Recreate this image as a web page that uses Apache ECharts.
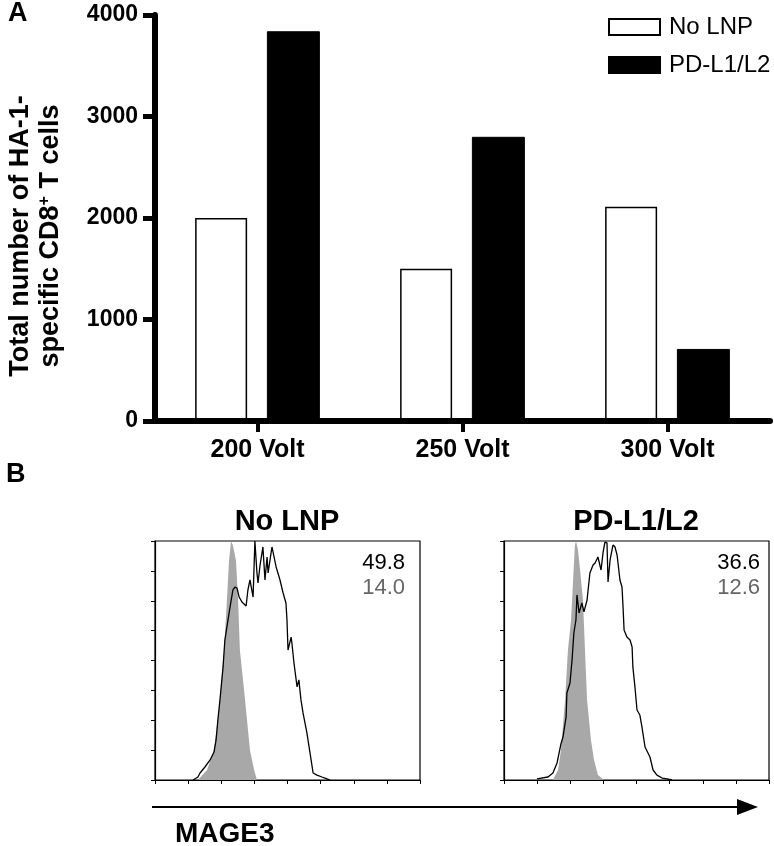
<!DOCTYPE html>
<html>
<head>
<meta charset="utf-8">
<script src="https://cdn.jsdelivr.net/npm/echarts@6/dist/echarts.min.js"></script>
<style>
html,body{margin:0;padding:0;background:#fff;}
#wrap{position:relative;width:774px;height:846px;}
#chartA,#chartB,#chartC{position:absolute;left:0;top:0;width:774px;height:846px;}
</style>
</head>
<body>
<div id="wrap"><div id="chartA"></div><div id="chartB"></div><div id="chartC"></div></div>
<script>
// ---------- Panel A data ----------
const categories = ['200 Volt', '250 Volt', '300 Volt'];
const noLnpValues = [2000, 1500, 2110];
const pdl1l2Values = [3840, 2800, 710];
const seriesNames = ['No LNP', 'PD-L1/L2'];
const yTitleLine1 = 'Total number of HA-1-';
const yTitleLine2 = '{n|specific CD8}{sup|+}{n| T cells}';

// ---------- Panel B data (histograms: [channel, count]) ----------
const noLnpIsotype = [[166,0],[201,6.7],[228,20],[251,53.6],[267,87],[278,120.5],[286,147],[294,160],[301,157],[313,147],[321,120.5],[328,87],[348,53.6],[367,20],[383,6.7],[394,0]];
const noLnpMage3 = [[147,0],[166,2],[174,4.7],[193,8.7],[213,13.4],[228,18.7],[236,26.8],[243,40.2],[251,53.6],[263,75.7],[270,93.7],[282,107],[290,115.8],[301,127.2],[309,129.2],[317,128.5],[325,122.5],[336,119.2],[352,116.5],[359,127.2],[367,133.9],[379,122.5],[386,160],[394,138.6],[398,131.9],[406,143.9],[417,156],[425,133.9],[433,149.3],[437,138.6],[452,156],[456,155.3],[468,142.6],[475,138.6],[483,133.9],[495,125.2],[506,118.5],[510,107.1],[514,87],[526,95.7],[529,91.7],[537,78.3],[549,62.3],[556,67],[564,53.6],[572,44.9],[587,31.5],[599,18.1],[611,4.7],[626,3.3],[645,2],[665,0.7],[676,0]];
const pdlIsotype = [[189,0],[209,6.7],[220,20],[236,53.6],[247,87],[259,107],[267,133.9],[274,157],[278,160],[286,154],[294,140.6],[305,120.5],[313,87],[321,53.6],[336,26.8],[348,13.4],[363,3.3],[386,0]];
const pdlMage3 = [[127.5,0.7],[170,2],[189,4.7],[205,11.4],[220,24.1],[228,28.8],[240,42.2],[243,58.2],[255,64.9],[263,80.3],[270,98.4],[278,107.1],[282,123.9],[290,111.8],[301,118.5],[309,112.5],[321,120.5],[332,138.6],[344,143.9],[352,145.3],[363,149.3],[375,140.6],[383,152.6],[390,159.3],[398,158.7],[402,132.6],[410,147.3],[421,157.3],[429,156],[437,150.6],[448,133.9],[456,129.2],[460,115.8],[464,100.4],[475,95.7],[487,93.7],[495,89],[498,75.7],[506,62.3],[514,46.9],[525,43.5],[533,35.5],[545,22.1],[564,15.4],[576,6.7],[591,3.3],[611,1.3],[630,0.7],[649,0]];
const histTitles = ['No LNP', 'PD-L1/L2'];
const mage3Pct = ['49.8', '36.6'];
const isoPct = ['14.0', '12.6'];

const FONT = '"Liberation Sans", Arial, Helvetica, sans-serif';
const barStyles = [
  {color: '#fff', borderColor: '#000', borderWidth: 1.5},
  {color: '#000', borderColor: '#000', borderWidth: 1}
];

// ---------- Chart A: bar chart ----------
const chartA = echarts.init(document.getElementById('chartA'), null, {renderer: 'canvas'});
chartA.setOption({
  backgroundColor: '#fff',
  animation: false,
  grid: [{left: 155, top: 15, width: 615, height: 406}],
  xAxis: [{
    gridIndex: 0, type: 'category', data: categories, z: 100,
    axisLine: {show: true, onZero: false, lineStyle: {color: '#000', width: 6}},
    axisTick: {show: true, alignWithLabel: true, length: 11, lineStyle: {color: '#050505', width: 4}},
    axisLabel: {color: '#000', fontSize: 25, fontWeight: 'bold', fontFamily: FONT, margin: 17}
  }],
  yAxis: [{
    gridIndex: 0, type: 'value', min: 0, max: 4000, interval: 1000, z: 100,
    axisLine: {show: true, onZero: false, lineStyle: {color: '#000', width: 6}},
    axisTick: {show: true, length: 12, lineStyle: {color: '#050505', width: 5}},
    axisLabel: {color: '#000', fontSize: 23, fontWeight: 'bold', fontFamily: FONT, margin: 17, formatter: v => String(v)},
    splitLine: {show: false}
  }],
  series: [
    {name: seriesNames[0], type: 'bar', data: noLnpValues, barWidth: 52, barGap: '38%', itemStyle: barStyles[0]},
    {name: seriesNames[1], type: 'bar', data: pdl1l2Values, barWidth: 53, barGap: '38%', itemStyle: barStyles[1]}
  ]
});

// ---------- Chart C: legend only (transparent overlay, series without data) ----------
const chartC = echarts.init(document.getElementById('chartC'), null, {renderer: 'canvas'});
chartC.setOption({
  backgroundColor: 'transparent',
  animation: false,
  grid: {left: 0, top: 0, width: 1, height: 1, show: false},
  xAxis: {type: 'category', show: false, data: []},
  yAxis: {type: 'value', show: false},
  legend: {
    orient: 'vertical', left: 608, top: 15, padding: 0, icon: 'rect',
    itemWidth: 51, itemHeight: 16, itemGap: 14,
    textStyle: {fontFamily: FONT, fontSize: 24, color: '#000', padding: [0, 0, 0, 4]},
    data: seriesNames
  },
  series: [
    {name: seriesNames[0], type: 'bar', data: [], itemStyle: barStyles[0]},
    {name: seriesNames[1], type: 'bar', data: [], itemStyle: barStyles[1]}
  ]
});

// ---------- Chart B: histograms + annotations (transparent overlay) ----------
function histXAxis(gridIndex) {
  return {
    gridIndex, type: 'value', min: 0, max: 1024, interval: 128,
    axisLine: {show: true, onZero: false, lineStyle: {color: '#000', width: 1.2}},
    axisTick: {show: true, length: 4, lineStyle: {color: '#000', width: 1}},
    axisLabel: {show: false}, splitLine: {show: false}
  };
}
function histYAxis(gridIndex) {
  return {
    gridIndex, type: 'value', min: 0, max: 160, interval: 20,
    axisLine: {show: true, onZero: false, lineStyle: {color: '#000', width: 1.2}},
    axisTick: {show: true, length: 4, lineStyle: {color: '#000', width: 1}},
    axisLabel: {show: false}, splitLine: {show: false}
  };
}
const chartB = echarts.init(document.getElementById('chartB'), null, {renderer: 'canvas'});
chartB.setOption({
  backgroundColor: 'transparent',
  animation: false,
  grid: [
    {left: 155, top: 541, width: 265, height: 239, show: true, borderColor: '#000', borderWidth: 1.2, backgroundColor: 'transparent'},
    {left: 504, top: 541, width: 265, height: 239, show: true, borderColor: '#000', borderWidth: 1.2, backgroundColor: 'transparent'}
  ],
  xAxis: [histXAxis(0), histXAxis(1)],
  yAxis: [histYAxis(0), histYAxis(1)],
  series: [
    {type: 'line', xAxisIndex: 0, yAxisIndex: 0, data: noLnpIsotype, showSymbol: false, symbol: 'none',
     lineStyle: {width: 0}, areaStyle: {color: '#a8a8a8', opacity: 1}, z: 1},
    {type: 'line', xAxisIndex: 0, yAxisIndex: 0, data: noLnpMage3, showSymbol: false, symbol: 'none',
     lineStyle: {color: '#000', width: 1.3}, z: 3},
    {type: 'line', xAxisIndex: 1, yAxisIndex: 1, data: pdlIsotype, showSymbol: false, symbol: 'none',
     lineStyle: {width: 0}, areaStyle: {color: '#a8a8a8', opacity: 1}, z: 1},
    {type: 'line', xAxisIndex: 1, yAxisIndex: 1, data: pdlMage3, showSymbol: false, symbol: 'none',
     lineStyle: {color: '#000', width: 1.3}, z: 3}
  ],
  graphic: [
    {type: 'text', x: 8, y: 0, style: {text: 'A', fontFamily: FONT, fontSize: 27, fontWeight: 'bold', fill: '#000'}},
    {type: 'text', x: 6, y: 461, style: {text: 'B', fontFamily: FONT, fontSize: 27, fontWeight: 'bold', fill: '#000'}},
    {type: 'text', x: 21, y: 236, rotation: Math.PI / 2,
     style: {text: yTitleLine1, fontFamily: FONT, fontSize: 27, fontWeight: 'bold', fill: '#000', align: 'center', verticalAlign: 'middle'}},
    {type: 'text', x: 51, y: 236, rotation: Math.PI / 2,
     style: {text: yTitleLine2, fontFamily: FONT, fontSize: 27, fontWeight: 'bold', fill: '#000', align: 'center', verticalAlign: 'middle',
       rich: {
         n: {fontFamily: FONT, fontSize: 27, fontWeight: 'bold', fill: '#000'},
         sup: {fontFamily: FONT, fontSize: 16, fontWeight: 'bold', fill: '#000', verticalAlign: 'top', padding: [0, 0, 12, 0]}
       }}},
    {type: 'text', x: 287, y: 522, style: {text: histTitles[0], fontFamily: FONT, fontSize: 29, fontWeight: 'bold', fill: '#000', align: 'center', verticalAlign: 'middle'}},
    {type: 'text', x: 636, y: 522, style: {text: histTitles[1], fontFamily: FONT, fontSize: 29, fontWeight: 'bold', fill: '#000', align: 'center', verticalAlign: 'middle'}},
    {type: 'text', x: 405, y: 563, style: {text: mage3Pct[0], fontFamily: FONT, fontSize: 22, fill: '#000', align: 'right', verticalAlign: 'middle'}},
    {type: 'text', x: 405, y: 588, style: {text: isoPct[0], fontFamily: FONT, fontSize: 22, fill: '#666', align: 'right', verticalAlign: 'middle'}},
    {type: 'text', x: 760, y: 563, style: {text: mage3Pct[1], fontFamily: FONT, fontSize: 22, fill: '#000', align: 'right', verticalAlign: 'middle'}},
    {type: 'text', x: 760, y: 588, style: {text: isoPct[1], fontFamily: FONT, fontSize: 22, fill: '#666', align: 'right', verticalAlign: 'middle'}},
    {type: 'line', shape: {x1: 152, y1: 807, x2: 740, y2: 807}, style: {stroke: '#000', lineWidth: 2.2}},
    {type: 'polygon', shape: {points: [[737, 799], [758, 807], [737, 815]]}, style: {fill: '#000'}},
    {type: 'text', x: 175, y: 834, style: {text: 'MAGE3', fontFamily: FONT, fontSize: 28, fontWeight: 'bold', fill: '#000', verticalAlign: 'middle'}}
  ]
});
</script>
</body>
</html>
